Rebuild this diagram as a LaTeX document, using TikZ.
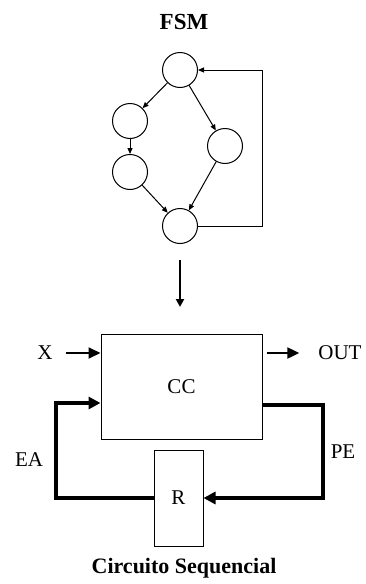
\documentclass[tikz,border=0pt]{standalone}
\usepackage{fontspec}
\setmainfont{Liberation Serif}
\usetikzlibrary{arrows.meta}
\tikzset{
  state/.style={draw,circle,line width=0.5pt,minimum size=17.5pt,inner sep=0pt},
  trans/.style={line width=0.5pt,-{Triangle[length=3pt,width=2.5pt]}},
  block/.style={draw,line width=0.5pt,inner sep=0pt},
  sig/.style={line width=1pt,-{Triangle[length=6pt,width=5.5pt]}},
  fb/.style={line width=2pt},
}
\begin{document}
\begin{tikzpicture}[x=0.5pt,y=-0.5pt,font=\fontsize{10.5}{12}\selectfont]
  \useasboundingbox (0,0) rectangle (365,584);
  % state machine
  \node[font=\fontsize{11.5}{13}\selectfont\bfseries] (fsm) at (184,22) {FSM};
  \node[state] (s0) at (180,70) {};
  \node[state] (s1) at (130,121) {};
  \node[state] (s2) at (130,172) {};
  \node[state] (s3) at (225,146) {};
  \node[state] (s4) at (180,226) {};
  \draw[trans] (s0) -- (s1);
  \draw[trans] (s0) -- (s3);
  \draw[trans] (s1) -- (s2);
  \draw[trans] (s2) -- (s4);
  \draw[trans] (s3) -- (s4);
  \coordinate (back) at (262,0);
  \draw[trans] (s4.east) -- (s4.east -| back) |- (s0.east);
  % synthesis arrow
  \coordinate (down1) at (180,260);
  \coordinate (down2) at (180,307);
  \draw[sig,-{Triangle[length=4pt,width=4pt]}] (down1) -- (down2);
  % sequential circuit
  \node[block,minimum width=80.5pt,minimum height=52.5pt] (cc) at (181.5,386.5) {CC};
  \node[block,minimum width=24.5pt,minimum height=48pt] (r) at (178.5,498) {R};
  \node (x) at (45,353) {X};
  \node (out) at (340,353) {OUT};
  \draw[sig,shorten <=3pt] (x) -- (cc.west |- x);
  \draw[sig,shorten <=2pt,shorten >=6pt] (cc.east |- out) -- (out.west);
  \coordinate (pe) at (323,405);
  \coordinate (ea) at (56,403);
  \draw[fb,-{Triangle[length=6pt,width=6pt]}] (cc.east |- pe) -- (pe) |- (r.east);
  \draw[fb] (r.west) -| (ea);
  \draw[fb,-{Triangle[length=6pt,width=6pt]}] ([xshift=-1pt]ea) -- (cc.west |- ea);
  \node (pelab) at (343,452) {PE};
  \node (ealab) at (29,460) {EA};
  \node[font=\fontsize{11}{13}\selectfont\bfseries] (title) at (184,568) {Circuito Sequencial};
\end{tikzpicture}
\end{document}
